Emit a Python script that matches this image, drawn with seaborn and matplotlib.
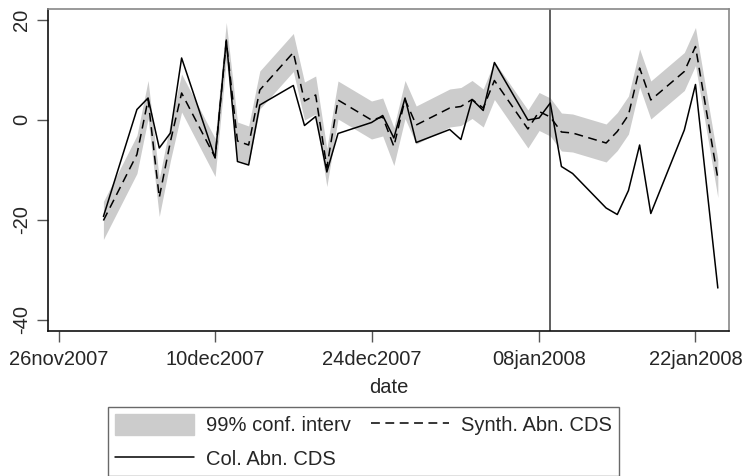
import matplotlib
matplotlib.use("Agg")
import matplotlib.pyplot as plt
from matplotlib.patches import Patch
from matplotlib.lines import Line2D
import pandas as pd
import seaborn as sns

# Trading days in the window
dates = [
    "2007-11-30", "2007-12-03", "2007-12-04", "2007-12-05", "2007-12-06", "2007-12-07",
    "2007-12-10", "2007-12-11", "2007-12-12", "2007-12-13", "2007-12-14",
    "2007-12-17", "2007-12-18", "2007-12-19", "2007-12-20", "2007-12-21",
    "2007-12-24", "2007-12-25", "2007-12-26", "2007-12-27", "2007-12-28",
    "2007-12-31", "2008-01-01", "2008-01-02", "2008-01-03", "2008-01-04",
    "2008-01-07", "2008-01-08", "2008-01-09", "2008-01-10", "2008-01-11",
    "2008-01-14", "2008-01-15", "2008-01-16", "2008-01-17", "2008-01-18",
    "2008-01-21", "2008-01-22", "2008-01-24",
]

# Observed abnormal CDS changes
col_abn_cds = [
    -19.4, 2.0, 4.3, -5.7, -2.7, 12.3,
    -7.7, 15.9, -8.4, -9.1, 2.9,
    6.8, -1.2, 0.6, -10.5, -2.8,
    -0.6, 0.8, -3.7, 4.3, -4.6,
    -2.0, -4.0, 4.0, 1.8, 11.4,
    -0.1, 0.3, 3.3, -9.4, -10.8,
    -17.7, -19.0, -14.2, -5.1, -18.8,
    -2.1, 7.0, -33.7,
]

# Synthetic control abnormal CDS changes
synth_abn_cds = [
    -20.2, -7.0, 4.0, -15.6, -4.4, 5.3,
    -7.6, 15.6, -4.3, -5.1, 5.9,
    13.4, 3.7, 4.9, -9.6, 3.9,
    -0.1, 0.5, -5.4, 4.0, -1.1,
    2.3, 2.6, 4.0, 2.3, 7.8,
    -1.9, 1.6, 0.5, -2.5, -2.7,
    -4.7, -2.4, 0.9, 10.3, 3.9,
    9.6, 14.6, -11.8,
]

# Half-width of the 99% confidence interval around the synthetic series
ci_halfwidth = 3.8

event_date = "2008-01-09"
tick_dates = ["2007-11-26", "2007-12-10", "2007-12-24", "2008-01-08", "2008-01-22"]
y_ticks = [-40, -20, 0, 20]

df = pd.DataFrame({
    "date": pd.to_datetime(dates),
    "col": col_abn_cds,
    "synth": synth_abn_cds,
})
df["lo"] = df["synth"] - ci_halfwidth
df["hi"] = df["synth"] + ci_halfwidth

sns.set_style("white")
plt.rcParams["font.family"] = ["Liberation Sans", "DejaVu Sans"]

W, H = 745, 476
fig = plt.figure(figsize=(W / 100, H / 100), dpi=100)
ax = fig.add_axes([48 / W, 1 - 331 / H, (729 - 48) / W, (331 - 9) / H])

band_color = "#cccccc"
ax.fill_between(df["date"], df["lo"], df["hi"], color=band_color, linewidth=0, zorder=1)

dash_style = (0, (5.8, 3.6))
sns.lineplot(data=df, x="date", y="synth", ax=ax, color="black", linewidth=1.1,
             linestyle=dash_style, estimator=None, sort=False, errorbar=None, zorder=3)
sns.lineplot(data=df, x="date", y="col", ax=ax, color="black", linewidth=1.1,
             estimator=None, sort=False, errorbar=None, zorder=4)

ax.axvline(pd.Timestamp(event_date), color="#333333", linewidth=1.1, zorder=2)

x0 = pd.Timestamp(tick_dates[0])
ax.set_xlim(x0 - pd.Timedelta(days=0.96), x0 + pd.Timedelta(days=60.0))
ax.set_ylim(-42.3, 22.1)

ax.set_xticks(pd.to_datetime(tick_dates))
ax.set_xticklabels([pd.Timestamp(d).strftime("%d%b%Y").lower() for d in tick_dates],
                   fontsize=14.5)
ax.set_yticks(y_ticks)
ax.set_yticklabels([str(v) for v in y_ticks], fontsize=14.5, rotation=90, va="center")

ax.tick_params(axis="both", which="major", direction="out", length=8, width=1,
               color="#555555", pad=4, bottom=True, left=True)
ax.tick_params(axis="x", pad=6)

ax.set_xlabel("date", fontsize=14.5, labelpad=6)
ax.set_ylabel("")

for side in ["left", "bottom"]:
    ax.spines[side].set_color("#111111")
    ax.spines[side].set_linewidth(1.2)
for side in ["top", "right"]:
    ax.spines[side].set_color("#888888")
    ax.spines[side].set_linewidth(1.2)

handles = [
    Patch(facecolor=band_color, edgecolor=band_color),
    Line2D([], [], color="black", linewidth=1.1),
    Line2D([], [], color="black", linewidth=1.1, linestyle=dash_style),
]
labels = ["99% conf. interv", "Col. Abn. CDS", "Synth. Abn. CDS"]
leg = fig.legend(handles, labels, ncol=2, loc="upper left",
                 bbox_to_anchor=(108 / W, 1 - 407 / H),
                 fontsize=14.5, frameon=True, fancybox=False,
                 handlelength=3.9, handleheight=1.2, handletextpad=0.6,
                 columnspacing=1.0, labelspacing=0.65, borderpad=0.35,
                 borderaxespad=0)
leg.get_frame().set_edgecolor("#444444")
leg.get_frame().set_linewidth(1.0)

fig.savefig("out.png", dpi=100)
